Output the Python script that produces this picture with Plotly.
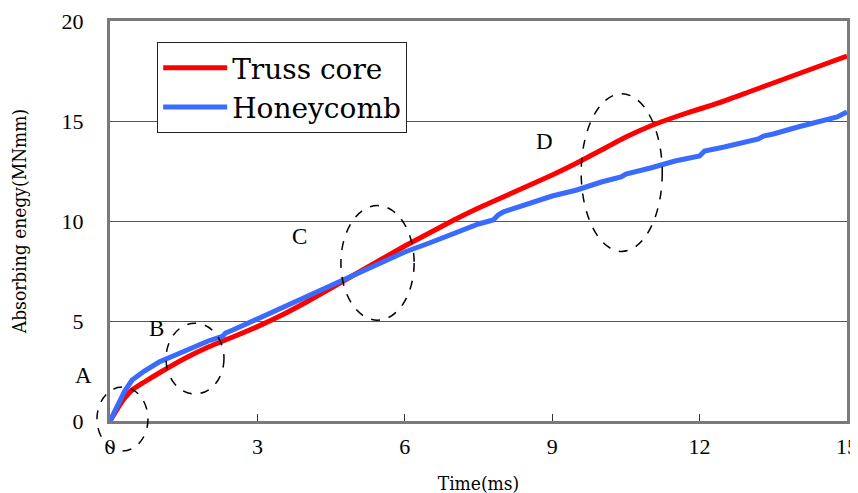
import plotly.graph_objects as go

# Data
t_truss = [0, 0.1, 0.2, 0.3, 0.45, 0.7, 1.0, 1.5, 2.0, 2.5, 3.0, 3.5, 4.0, 4.5, 5.0, 5.5,
           6.0, 6.5, 7.0, 7.5, 8.0, 8.5, 9.0, 9.5, 10.0, 10.5, 11.0, 11.5, 12.0, 12.5,
           13.0, 13.5, 14.0, 14.5, 15.0]
e_truss = [0, 0.4, 0.8, 1.15, 1.55, 1.95, 2.4, 3.1, 3.7, 4.2, 4.72, 5.3, 5.95, 6.65, 7.35, 8.05,
           8.75, 9.4, 10.05, 10.65, 11.2, 11.75, 12.3, 12.9, 13.55, 14.2, 14.75, 15.2, 15.6, 16.0,
           16.45, 16.9, 17.35, 17.8, 18.25]

t_honey = [0, 0.1, 0.2, 0.3, 0.45, 0.7, 1.0, 1.5, 2.0, 2.3, 2.35, 2.5, 3.0, 3.5, 4.0, 4.5, 5.0,
           5.5, 6.0, 6.5, 7.0, 7.5, 7.8, 7.9, 8.0, 8.5, 9.0, 9.5, 10.0, 10.4, 10.5, 11.0, 11.5,
           12.0, 12.1, 12.5, 13.0, 13.2, 13.3, 13.5, 14.0, 14.5, 14.8, 15.0]
e_honey = [0, 0.55, 1.05, 1.5, 2.05, 2.5, 2.95, 3.5, 4.0, 4.25, 4.4, 4.55, 5.1, 5.7, 6.25, 6.8, 7.3,
           7.9, 8.45, 8.9, 9.4, 9.85, 10.05, 10.3, 10.45, 10.85, 11.25, 11.55, 11.95, 12.2, 12.35, 12.65, 13.0,
           13.25, 13.5, 13.7, 14.0, 14.1, 14.25, 14.35, 14.7, 15.0, 15.2, 15.45]

series_names = ["Truss core", "Honeycomb"]
x_ticks = [0, 3, 6, 9, 12, 15]
y_ticks = [0, 5, 10, 15, 20]

# Annotated regions (data units): label, label position, ellipse bounds
region_labels = ["A", "B", "C", "D"]
label_t = [-0.53, 0.94, 3.85, 8.85]
label_e = [2.29, 4.64, 9.23, 14.0]
ell_t0 = [-0.265, 1.14, 4.70, 9.59]
ell_t1 = [0.773, 2.32, 6.19, 11.24]
ell_e0 = [-1.50, 1.35, 5.04, 8.48]
ell_e1 = [1.70, 4.89, 10.77, 16.36]

XR = [0, 15]
YR = [0, 20]

fig = go.Figure()
fig.add_trace(go.Scatter(x=t_truss, y=e_truss, mode="lines", name=series_names[0],
                         line=dict(color="#FF0000", width=5, shape="spline", smoothing=0.5)))
fig.add_trace(go.Scatter(x=t_honey, y=e_honey, mode="lines", name=series_names[1],
                         line=dict(color="#3A6BFF", width=5)))

def px(v):
    return (v - XR[0]) / (XR[1] - XR[0])

def py(v):
    return (v - YR[0]) / (YR[1] - YR[0])

shapes = []
for i in range(len(region_labels)):
    shapes.append(dict(type="circle", xref="paper", yref="paper",
                       x0=px(ell_t0[i]), x1=px(ell_t1[i]), y0=py(ell_e0[i]), y1=py(ell_e1[i]),
                       line=dict(color="black", width=1.5, dash="dash"), layer="above"))

annotations = []
for i, lab in enumerate(region_labels):
    annotations.append(dict(x=px(label_t[i]), y=py(label_e[i]), xref="paper", yref="paper", text=lab,
                            xanchor="center", yanchor="middle",
                            showarrow=False, font=dict(family="Liberation Serif", size=23, color="black")))

# the page body has an 8px margin, so the figure is offset by 8px
fig.update_layout(
    width=858, height=493,
    margin=dict(l=102, r=19, t=13, b=80),
    paper_bgcolor="white", plot_bgcolor="white",
    shapes=shapes, annotations=annotations,
    showlegend=True,
    legend=dict(x=0.064, y=0.9475, xanchor="left", yanchor="top",
                bgcolor="white", bordercolor="#222222", borderwidth=1,
                font=dict(family="DejaVu Serif", size=28, color="black"),
                tracegroupgap=0, itemwidth=64),
    xaxis=dict(range=XR, tickvals=x_ticks, ticktext=[str(v) for v in x_ticks],
               showgrid=False, zeroline=False, showline=True, mirror=True, automargin=False,
               linecolor="#7a7a7a", linewidth=3, ticks="inside", ticklen=7,
               tickcolor="#333333", tickwidth=1, ticklabeloverflow="allow",
               tickfont=dict(family="Liberation Serif", size=22, color="black"),
               ticklabelstandoff=4,
               title=dict(text="Time(ms)", font=dict(family="DejaVu Serif Condensed", size=19, color="black"),
                          standoff=19)),
    yaxis=dict(range=YR, tickvals=y_ticks, ticktext=[str(v) for v in y_ticks],
               showgrid=True, gridcolor="#555555", gridwidth=1, zeroline=False, automargin=False,
               showline=True, mirror=True, linecolor="#7a7a7a", linewidth=3, ticks="",
               tickfont=dict(family="Liberation Serif", size=22, color="black"),
               ticklabelstandoff=19,
               title=dict(text="Absorbing enegy(MNmm)",
                          font=dict(family="DejaVu Serif Condensed", size=19, color="black"),
                          standoff=30)),
)

fig.write_html("out.html")
